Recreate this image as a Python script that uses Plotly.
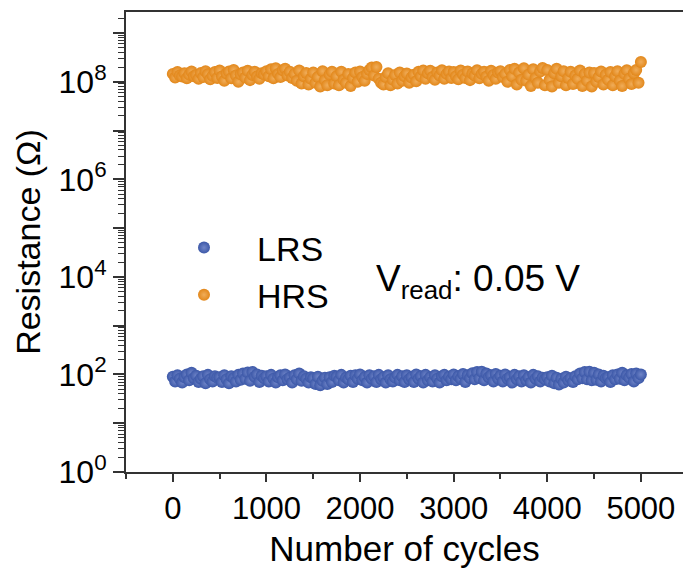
import plotly.graph_objects as go

# ---- data ----
cycles = list(range(0, 5001, 25))

# HRS resistance in units of 1e8 ohm
hrs_1e8 = [
    1.45, 1.22, 1.58, 1.35, 1.28, 1.50, 1.18, 1.40, 1.62, 1.30,
    1.38, 1.15, 1.52, 1.25, 1.65, 1.42, 1.12, 1.32, 1.58, 1.20,
    1.70, 1.28, 1.05, 1.48, 1.62, 1.18, 1.75, 1.35, 1.00, 1.42,
    1.55, 1.22, 1.68, 1.08, 1.38, 1.60, 1.28, 1.15, 1.50, 1.42,
    1.65, 1.30, 1.80, 1.18, 1.90, 1.45, 1.25, 1.72, 1.85, 1.35,
    1.60, 1.20, 1.45, 1.05, 1.70, 0.92, 1.30, 1.52, 0.88, 1.15,
    1.55, 0.95, 1.25, 0.80, 1.65, 1.08, 0.85, 1.40, 1.60, 0.92,
    1.30, 0.85, 1.60, 1.10, 0.95, 1.45, 0.82, 1.20, 1.55, 1.00,
    1.62, 1.25, 1.05, 1.45, 1.75, 1.95, 1.35, 2.00, 1.15, 0.95,
    0.88, 1.25, 1.50, 0.85, 1.10, 1.38, 0.92, 1.55, 1.05, 1.30,
    1.48, 0.95, 1.22, 1.40, 1.02, 1.60, 1.30, 1.70, 1.15, 1.50,
    1.68, 1.25, 1.10, 1.55, 1.35, 1.72, 1.15, 1.45, 1.62, 1.20,
    1.58, 1.30, 1.12, 1.70, 1.40, 1.20, 1.62, 1.08, 1.48, 1.35,
    1.72, 1.18, 1.45, 1.60, 1.28, 1.05, 1.68, 1.38, 1.15, 1.55,
    1.65, 1.25, 1.45, 1.00, 1.75, 1.30, 1.85, 0.88, 1.55, 1.10,
    1.90, 1.05, 1.40, 0.82, 1.80, 1.20, 0.95, 1.62, 1.92, 0.85,
    1.75, 1.10, 0.80, 1.50, 1.85, 0.95, 1.30, 1.65, 0.85, 1.20,
    1.60, 0.90, 1.35, 1.15, 1.70, 0.82, 1.45, 1.05, 1.55, 0.80,
    1.52, 1.00, 1.25, 1.62, 0.88, 1.40, 1.10, 1.58, 0.85, 1.30,
    1.65, 1.05, 0.82, 1.45, 1.72, 1.15, 0.90, 1.50, 1.75, 0.95,
    2.55,
]

# LRS resistance in ohm
lrs_ohm = [
    90, 72, 96, 82, 68, 88, 100, 76, 108, 84,
    94, 70, 82, 92, 66, 98, 80, 72, 92, 86,
    88, 70, 96, 80, 66, 92, 84, 72, 98, 78,
    104, 82, 110, 74, 112, 90, 100, 70, 94, 84,
    92, 72, 98, 82, 68, 88, 96, 76, 100, 80,
    86, 68, 96, 80, 104, 74, 92, 82, 68, 88,
    84, 64, 90, 60, 74, 86, 64, 88, 70, 94,
    90, 76, 98, 68, 86, 80, 94, 70, 96, 82,
    100, 76, 88, 68, 96, 82, 92, 70, 98, 80,
    88, 68, 96, 80, 72, 86, 98, 76, 92, 70,
    96, 80, 88, 70, 100, 82, 92, 68, 98, 76,
    88, 72, 96, 82, 68, 92, 98, 76, 90, 80,
    100, 76, 92, 82, 102, 70, 96, 84, 106, 80,
    112, 84, 114, 76, 104, 88, 96, 72, 102, 82,
    94, 72, 100, 82, 88, 68, 98, 80, 92, 72,
    96, 76, 88, 68, 98, 82, 92, 72, 86, 80,
    88, 72, 94, 66, 86, 62, 82, 68, 90, 76,
    84, 70, 92, 80, 104, 84, 112, 80, 114, 76,
    108, 78, 100, 72, 94, 84, 88, 70, 96, 80,
    100, 82, 108, 76, 96, 86, 102, 72, 104, 84,
    100,
]

x_ticks = [0, 1000, 2000, 3000, 4000, 5000]
y_tickvals = [1, 10, 100, 1e3, 1e4, 1e5, 1e6, 1e7, 1e8, 1e9]
y_ticktext = ["10<sup>0</sup>", "", "10<sup>2</sup>", "", "10<sup>4</sup>", "",
              "10<sup>6</sup>", "", "10<sup>8</sup>", ""]

BLUE = "#3c58a8"
ORANGE = "#e2871a"
FONT = "Liberation Sans, Arial, sans-serif"

fig = go.Figure()
fig.add_trace(go.Scatter(
    x=cycles, y=lrs_ohm, mode="markers", name="LRS",
    marker=dict(size=12, color=BLUE, gradient=dict(type="radial", color="#7085c8"),
                line=dict(width=0)),
))
fig.add_trace(go.Scatter(
    x=cycles, y=[v * 1e8 for v in hrs_1e8], mode="markers", name="HRS",
    marker=dict(size=12, color=ORANGE, gradient=dict(type="radial", color="#f0ad5a"),
                line=dict(width=0)),
))

fig.update_layout(
    width=683, height=571,
    margin=dict(l=126, r=0, t=12, b=99),
    plot_bgcolor="white", paper_bgcolor="white",
    font=dict(family=FONT, color="black"),
    showlegend=True,
    legend=dict(
        x=(151 - 126) / 557, y=(471 - 218) / 460, xanchor="left", yanchor="top",
        font=dict(size=34, family=FONT), bgcolor="rgba(0,0,0,0)",
        itemwidth=96, tracegroupgap=0,
    ),
    xaxis=dict(
        range=[-500, 5450], automargin=False,
        tickvals=x_ticks, ticktext=[str(v) for v in x_ticks],
        ticks="outside", ticklen=8, tickwidth=1.5, tickcolor="#333",
        showline=True, linecolor="#333", linewidth=2, mirror=True,
        showgrid=False, zeroline=False,
        tickfont=dict(size=31, family=FONT),
        minor=dict(dtick=500, ticks="outside", ticklen=5, tickwidth=1.5, tickcolor="#333", showgrid=False),
        title=dict(text="Number of cycles", font=dict(size=35, family=FONT), standoff=11),
    ),
    yaxis=dict(
        type="log", range=[0, 9.43], automargin=False,
        tickvals=y_tickvals, ticktext=y_ticktext,
        ticks="outside", ticklen=11, tickwidth=1.5, tickcolor="#333",
        showline=True, linecolor="#333", linewidth=2, mirror=False,
        showgrid=False, zeroline=False,
        tickfont=dict(size=32, family=FONT),
        minor=dict(dtick="D1", ticks="outside", ticklen=6, tickwidth=1, tickcolor="#333", showgrid=False),
        title=dict(text="Resistance (Ω)", font=dict(size=34, family=FONT), standoff=8),
    ),
    annotations=[dict(
        text="V<sub>read</sub>: 0.05 V", xref="paper", yref="paper",
        x=(374 - 126) / 557, y=(471 - 280) / 460, xanchor="left", yanchor="middle",
        showarrow=False, font=dict(size=37, family=FONT, color="black"),
    )],
)

fig.write_html("out.html", config={"displayModeBar": False},
               post_script="document.body.style.margin='0px';")
